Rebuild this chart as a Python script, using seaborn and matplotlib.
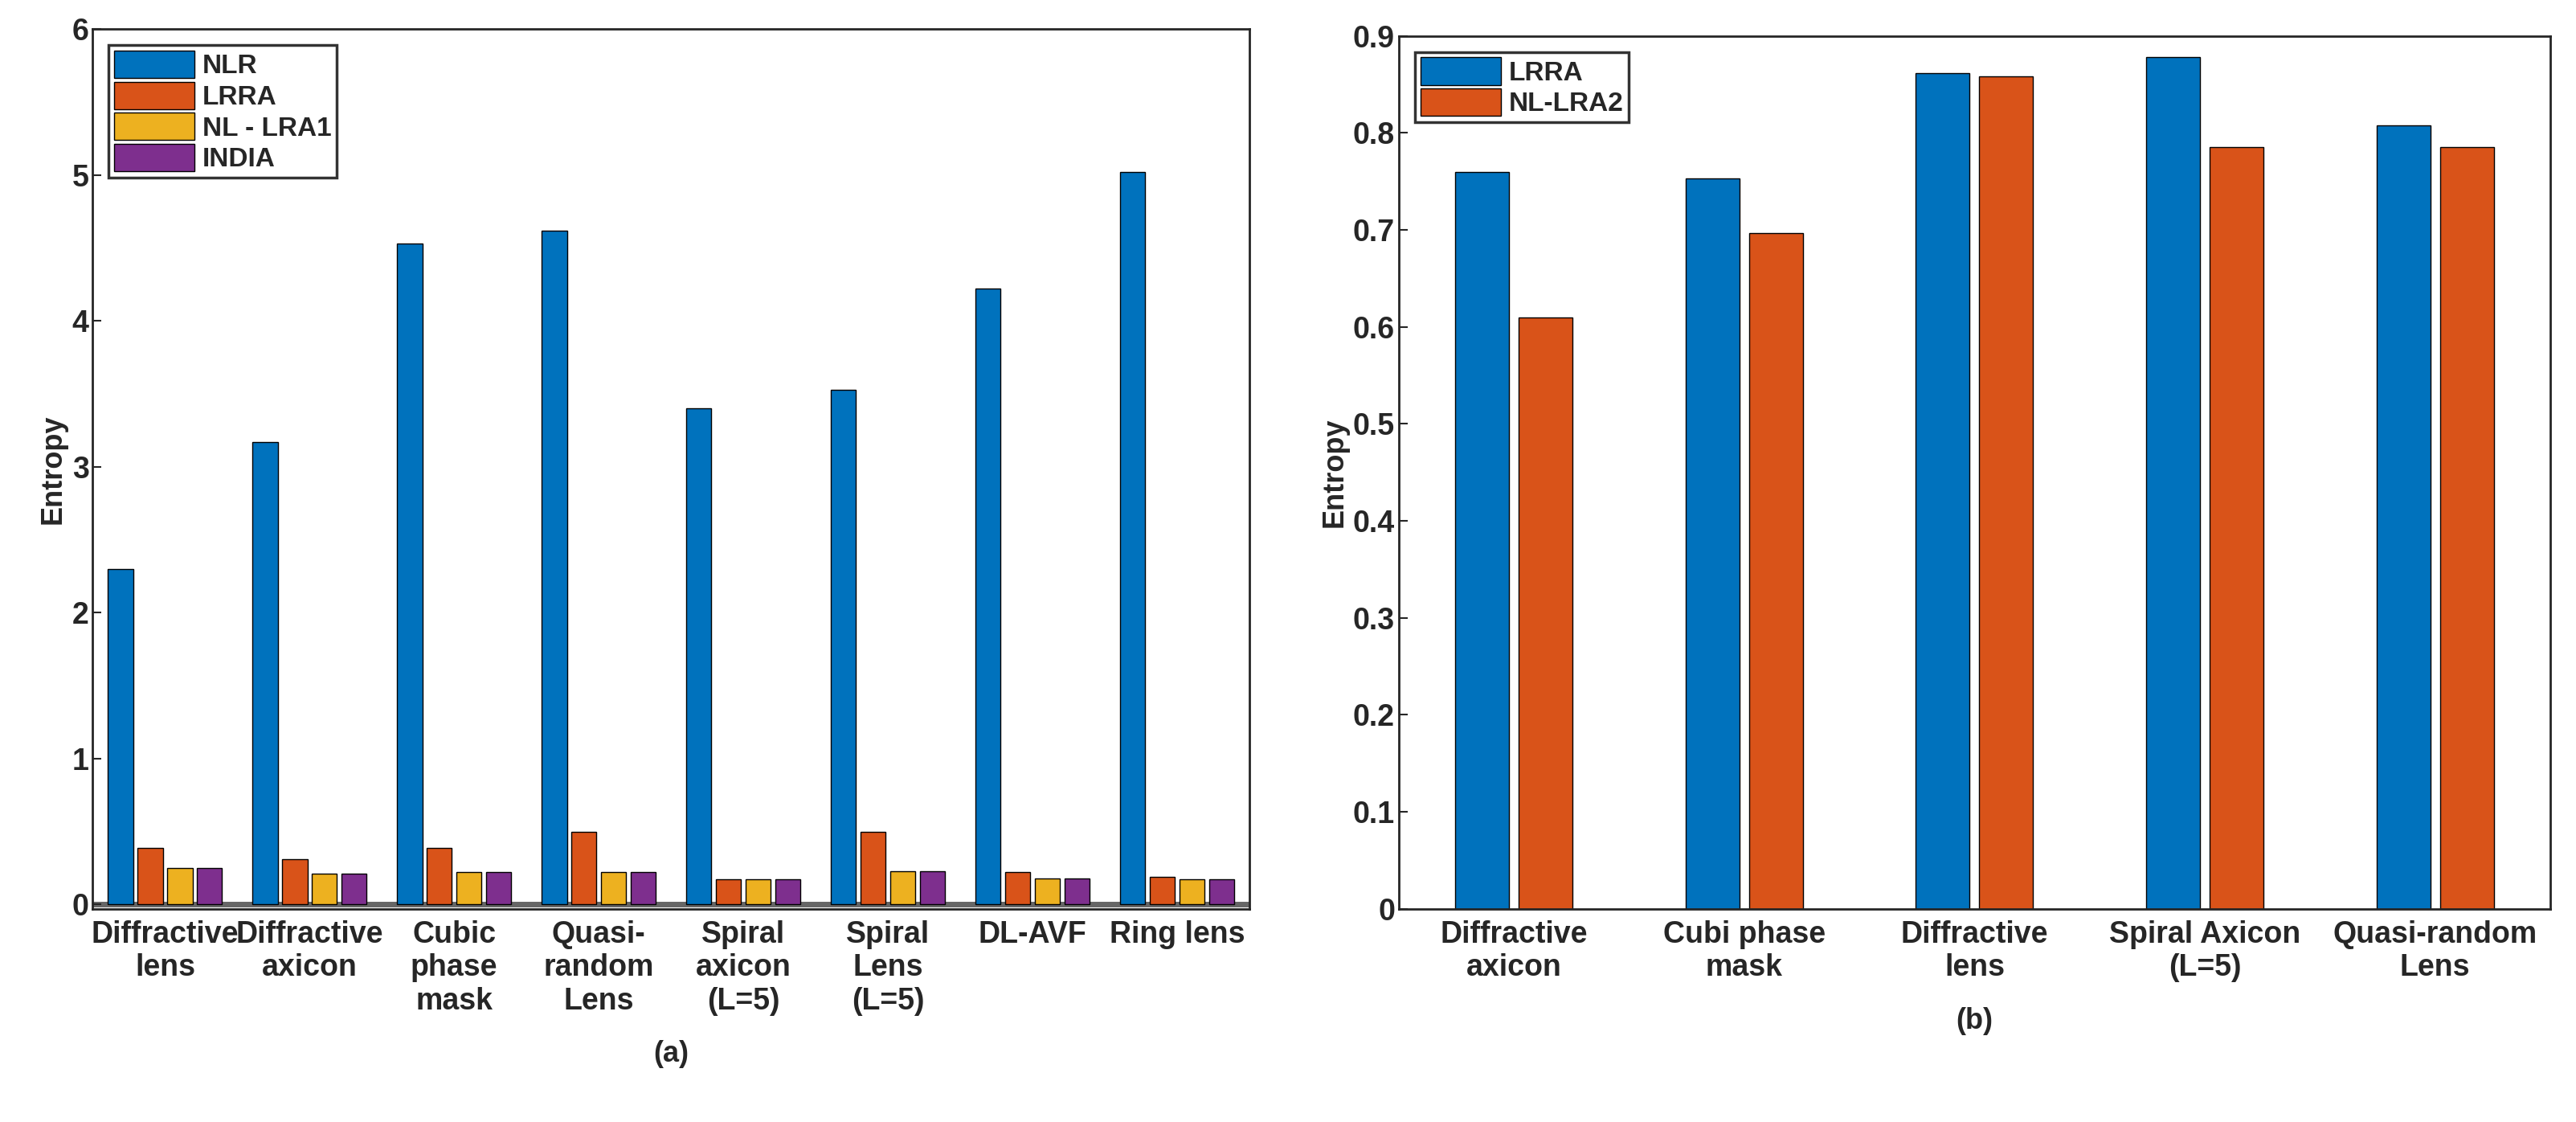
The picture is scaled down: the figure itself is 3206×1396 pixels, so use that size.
import pandas as pd
import matplotlib.pyplot as plt
import seaborn as sns

# -----------------------------
# DATA
# -----------------------------
LEFT_CATS = ["Diffractive\nlens", "Diffractive\naxicon", "Cubic\nphase\nmask", "Quasi-\nrandom\nLens",
             "Spiral\naxicon\n(L=5)", "Spiral\nLens\n(L=5)", "DL-AVF", "Ring lens"]
NLR = [2.30, 3.17, 4.53, 4.62, 3.40, 3.53, 4.22, 5.02]
LRRA_A = [0.39, 0.31, 0.39, 0.50, 0.17, 0.50, 0.22, 0.19]
NL_LRA1 = [0.25, 0.21, 0.22, 0.22, 0.17, 0.23, 0.18, 0.17]
INDIA = [0.25, 0.21, 0.22, 0.22, 0.17, 0.23, 0.18, 0.17]

RIGHT_CATS = ["Diffractive\naxicon", "Cubi phase\nmask", "Diffractive\nlens", "Spiral Axicon\n(L=5)", "Quasi-random\nLens"]
LRRA_B = [0.760, 0.753, 0.862, 0.878, 0.808]
NL_LRA2 = [0.610, 0.697, 0.858, 0.785, 0.785]

BLUE, ORANGE, YELLOW, PURPLE = "#0072BD", "#D95319", "#EDB120", "#7E2F8E"

sns.set_style("ticks")
plt.rcParams["font.family"] = "sans-serif"
plt.rcParams["font.sans-serif"] = ["Liberation Sans", "Arial", "DejaVu Sans"]
plt.rcParams["font.weight"] = "bold"

left_df = pd.DataFrame({
    "Lens": LEFT_CATS * 4,
    "Method": ["NLR"] * 8 + ["LRRA"] * 8 + ["NL - LRA1"] * 8 + ["INDIA"] * 8,
    "Entropy": NLR + LRRA_A + NL_LRA1 + INDIA,
})
right_df = pd.DataFrame({
    "Lens": RIGHT_CATS * 2,
    "Method": ["LRRA"] * 5 + ["NL-LRA2"] * 5,
    "Entropy": LRRA_B + NL_LRA2,
})

fig = plt.figure(figsize=(32.06, 13.96), dpi=100)
ax1 = fig.add_axes([0.036, 0.19, 0.449, 0.784])
ax2 = fig.add_axes([0.543, 0.19, 0.447, 0.778])

sns.barplot(data=left_df, x="Lens", y="Entropy", hue="Method", ax=ax1,
            palette=[BLUE, ORANGE, YELLOW, PURPLE], width=0.82, gap=0.15,
            saturation=1, edgecolor="black", linewidth=1)
ax1.set_ylim(-0.03, 6)
ax1.set_yticks(range(0, 7))

sns.barplot(data=right_df, x="Lens", y="Entropy", hue="Method", ax=ax2,
            palette=[BLUE, ORANGE], width=0.55, gap=0.15,
            saturation=1, edgecolor="black", linewidth=1)
ax2.set_ylim(0, 0.9)
ax2.set_yticks([i / 10 for i in range(10)])
ax2.set_yticklabels(["0"] + [f"{i / 10:.1f}" for i in range(1, 10)])

for ax, tag in [(ax1, "(a)"), (ax2, "(b)")]:
    ax.set_xlabel(tag, fontsize=26, fontweight="bold", labelpad=22)
    ax.set_ylabel("Entropy", fontsize=26, fontweight="bold")
    ax.tick_params(axis="both", labelsize=27, direction="in", length=8, width=1.5)
    ax.tick_params(axis="x", length=0, pad=10)
    for lbl in ax.get_xticklabels() + ax.get_yticklabels():
        lbl.set_fontweight("bold")
    for s in ax.spines.values():
        s.set_visible(True)
        s.set_linewidth(2)
    ax.legend(loc="upper left", frameon=True, fancybox=False,
              edgecolor="black", borderpad=0.2, handlelength=3.0, handleheight=1.2,
              labelspacing=0.1, handletextpad=0.3, borderaxespad=0.6,
              prop={"weight": "bold", "size": 24})
    ax.get_legend().get_frame().set_linewidth(2.5)

ax1.axhline(0, color="#666666", linewidth=5, zorder=0)

plt.savefig("out.png", dpi=100)
